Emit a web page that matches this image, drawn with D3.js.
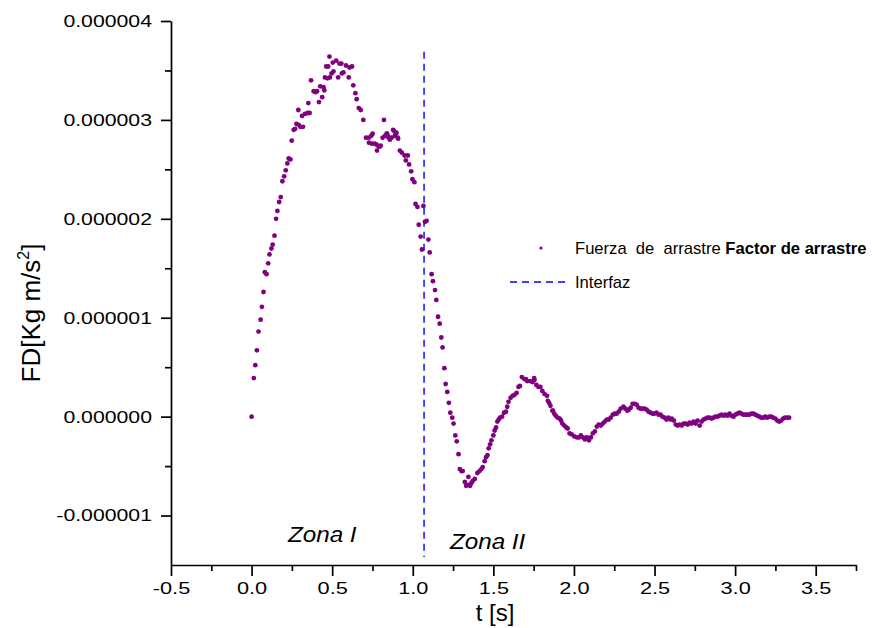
<!DOCTYPE html>
<html>
<head>
<meta charset="utf-8">
<script src="https://cdn.jsdelivr.net/npm/d3@7"></script>
<style>
body { margin: 0; background: #fff; }
text { font-family: "Liberation Sans", Arial, sans-serif; fill: #000; }
</style>
</head>
<body>
<svg id="chart" width="872" height="628"></svg>
<script>
// time [s]
const tValues = [0.000,0.014,0.023,0.033,0.043,0.056,0.064,0.074,0.082,0.093,0.103,0.111,0.123,0.131,0.142,0.152,0.160,0.171,0.181,0.191,
0.202,0.212,0.222,0.230,0.241,0.249,0.261,0.270,0.278,0.290,0.292,0.302,0.313,0.319,0.331,0.348,0.352,0.360,0.369,0.385,
0.397,0.406,0.418,0.426,0.438,0.446,0.451,0.455,0.463,0.471,0.475,0.483,0.486,0.496,0.504,0.508,0.525,0.537,0.545,0.557,
0.560,0.570,0.586,0.603,0.607,0.623,0.631,0.644,0.652,0.665,0.677,0.693,0.710,0.727,0.728,0.743,0.746,0.751,0.764,0.776,
0.778,0.788,0.796,0.801,0.813,0.821,0.829,0.838,0.841,0.848,0.850,0.858,0.869,0.878,0.883,0.889,0.895,0.899,0.907,0.909,
0.920,0.932,0.949,0.957,0.969,0.977,0.990,0.998,1.010,1.017,1.029,1.037,1.049,1.057,1.066,1.076,1.086,1.097,1.105,1.117,
1.125,1.138,1.146,1.157,1.167,1.177,1.185,1.196,1.204,1.214,1.224,1.233,1.245,1.253,1.264,1.273,1.284,1.292,1.302,1.310,
1.323,1.331,1.344,1.345,1.356,1.364,1.372,1.385,1.401,1.414,1.426,1.434,1.446,1.455,1.463,1.471,1.480,1.488,1.500,1.508,
1.517,1.525,1.533,1.541,1.554,1.566,1.578,1.586,1.594,1.607,1.619,1.631,1.644,1.656,1.665,1.677,1.693,1.702,1.710,1.727,
1.743,1.753,1.755,1.767,1.780,1.792,1.804,1.817,1.833,1.838,1.846,1.854,1.866,1.870,1.878,1.887,1.899,1.912,1.920,1.928,
1.940,1.952,1.961,1.973,1.986,2.002,2.019,2.031,2.043,2.056,2.068,2.080,2.093,2.105,2.117,2.130,2.142,2.154,2.167,2.179,
2.191,2.204,2.216,2.228,2.241,2.253,2.265,2.278,2.290,2.307,2.319,2.331,2.340,2.352,2.364,2.377,2.389,2.401,2.414,2.426,
2.438,2.451,2.463,2.475,2.488,2.500,2.512,2.525,2.537,2.549,2.562,2.574,2.586,2.599,2.607,2.620,2.632,2.644,2.656,2.669,
2.681,2.693,2.706,2.718,2.730,2.743,2.755,2.767,2.780,2.792,2.804,2.817,2.829,2.841,2.854,2.866,2.878,2.891,2.903,2.915,
2.928,2.940,2.952,2.965,2.977,2.990,3.002,3.014,3.027,3.039,3.051,3.064,3.076,3.088,3.101,3.113,3.125,3.138,3.150,3.162,
3.175,3.187,3.199,3.212,3.224,3.236,3.249,3.261,3.273,3.286,3.298,3.310,3.323,3.335];

// drag force, in units of 1e-6 Kg m/s^2
const fdValues = [0.00,0.39,0.52,0.67,0.86,0.98,1.11,1.26,1.46,1.44,1.55,1.64,1.70,1.74,1.83,2.00,2.08,2.17,2.22,2.38,
2.43,2.49,2.56,2.61,2.60,2.79,2.90,2.91,2.96,3.10,2.95,2.93,3.04,2.93,3.06,3.07,3.17,3.07,3.40,3.29,
3.28,3.29,3.18,3.34,3.23,3.33,3.30,3.43,3.54,3.42,3.54,3.64,3.43,3.47,3.58,3.49,3.60,3.43,3.57,3.57,
3.47,3.48,3.55,3.43,3.53,3.54,3.35,3.27,3.21,3.12,3.10,3.00,2.82,2.82,2.77,2.84,2.76,2.86,2.76,2.75,
2.69,2.73,2.73,2.74,2.82,3.00,2.84,2.86,2.86,2.83,2.82,2.80,2.82,2.90,2.89,2.84,2.86,2.87,2.82,2.81,
2.69,2.67,2.64,2.59,2.64,2.55,2.48,2.40,2.37,2.15,2.12,1.94,1.82,1.69,2.13,1.97,1.98,1.79,1.66,1.44,
1.37,1.28,1.18,1.01,0.94,0.80,0.70,0.49,0.33,0.25,0.14,0.04,-0.01,-0.07,-0.19,-0.25,-0.38,-0.53,-0.55,-0.55,
-0.66,-0.70,-0.69,-0.61,-0.70,-0.67,-0.65,-0.63,-0.57,-0.55,-0.53,-0.51,-0.45,-0.41,-0.39,-0.32,-0.28,-0.24,-0.19,-0.14,
-0.11,-0.05,-0.03,-0.01,0.00,0.04,0.05,0.10,0.15,0.19,0.21,0.22,0.24,0.30,0.31,0.40,0.38,0.38,0.36,0.36,
0.35,0.39,0.37,0.32,0.30,0.30,0.26,0.23,0.21,0.16,0.14,0.11,0.06,0.06,0.03,0.01,-0.01,-0.02,-0.04,-0.07,
-0.09,-0.11,-0.12,-0.17,-0.18,-0.20,-0.21,-0.21,-0.19,-0.21,-0.23,-0.21,-0.24,-0.21,-0.17,-0.15,-0.10,-0.08,-0.09,-0.07,
-0.05,-0.03,-0.03,-0.01,0.02,0.03,0.03,0.05,0.08,0.10,0.08,0.06,0.07,0.09,0.13,0.13,0.12,0.09,0.08,0.08,
0.08,0.07,0.05,0.04,0.03,0.03,0.04,0.02,0.02,0.00,-0.01,-0.03,-0.01,-0.03,-0.02,-0.04,-0.08,-0.09,-0.08,-0.09,
-0.07,-0.07,-0.08,-0.06,-0.07,-0.05,-0.07,-0.04,-0.09,-0.05,-0.03,-0.02,-0.01,-0.01,-0.02,-0.01,0.00,0.00,0.01,0.02,
0.01,0.02,0.01,0.03,0.01,0.00,0.02,0.03,0.04,0.03,0.02,0.02,0.02,0.02,0.03,0.03,0.02,0.01,0.00,-0.01,
-0.01,0.00,-0.01,0.00,0.00,-0.01,-0.02,-0.04,-0.05,-0.04,-0.02,-0.01,-0.01,-0.01];

const xMajor = [-0.5, 0.0, 0.5, 1.0, 1.5, 2.0, 2.5, 3.0, 3.5];
const xMinor = [-0.25, 0.25, 0.75, 1.25, 1.75, 2.25, 2.75, 3.25, 3.75];
const yMajor = [-1, 0, 1, 2, 3, 4];
const yMinor = [-0.5, 0.5, 1.5, 2.5, 3.5];

// vertical "Interfaz" line
const interfazT = 1.07;
const interfazSpan = [-1.42, 3.69];

const svg = d3.select("#chart");

let x = d3.scaleLinear().domain([-0.5, 3.75]).range([171, 856]);
let y = d3.scaleLinear().domain([-1.5, 4]).range([565, 21]);

let fmtY = d => d3.format(".6f")(d * 1e-6).replace("\u2212", "-");

// minor ticks first
svg.append("g")
    .attr("transform", "translate(0,565)")
    .call(d3.axisBottom(x).tickValues(xMinor).tickSize(6).tickFormat(""))
    .call(g => g.select(".domain").remove());
svg.append("g")
    .attr("transform", "translate(171,0)")
    .call(d3.axisLeft(y).tickValues(yMinor).tickSize(6).tickFormat(""))
    .call(g => g.select(".domain").remove());

let xAxis = svg.append("g")
    .attr("transform", "translate(0,565)")
    .call(d3.axisBottom(x).tickValues(xMajor).tickSize(11).tickSizeOuter(0).tickPadding(6)
        .tickFormat(d3.format(".1f")));
xAxis.selectAll("text")
    .attr("font-size", 17)
    .attr("transform", "scale(1.28,1)")
    .text(d => d3.format(".1f")(d).replace("\u2212", "-"));

let yAxis = svg.append("g")
    .attr("transform", "translate(171,0)")
    .call(d3.axisLeft(y).tickValues(yMajor).tickSize(10).tickSizeOuter(0).tickPadding(9)
        .tickFormat(fmtY));
yAxis.selectAll("text")
    .attr("font-size", 17)
    .attr("x", -19 / 1.25)
    .attr("transform", "scale(1.25,1)");

svg.selectAll(".domain, .tick line")
    .attr("stroke", "#000")
    .attr("stroke-width", 1.7);

// axis titles
svg.append("text")
    .attr("x", 495).attr("y", 621)
    .attr("text-anchor", "middle")
    .attr("font-size", 24)
    .text("t [s]");

let yTitle = svg.append("text")
    .attr("transform", "translate(40,313) rotate(-90)")
    .attr("text-anchor", "middle")
    .attr("font-size", 26);
yTitle.append("tspan").text("FD[Kg m/s");
yTitle.append("tspan").attr("font-size", 16).attr("dy", -11).text("2");
yTitle.append("tspan").attr("dy", 11).text("]");

// zone labels
svg.append("text")
    .attr("x", 288).attr("y", 542)
    .attr("font-size", 22).attr("font-style", "italic")
    .attr("transform", "translate(288,0) scale(1.1,1) translate(-288,0)")
    .text("Zona I");
svg.append("text")
    .attr("x", 450).attr("y", 549)
    .attr("font-size", 22).attr("font-style", "italic")
    .attr("transform", "translate(450,0) scale(1.1,1) translate(-450,0)")
    .text("Zona II");

// interface line
svg.append("line")
    .attr("x1", x(interfazT)).attr("x2", x(interfazT))
    .attr("y1", y(interfazSpan[1])).attr("y2", y(interfazSpan[0]))
    .attr("stroke", "#0000ff")
    .attr("stroke-width", 1.4)
    .attr("stroke-dasharray", "7,5");

// data points
let points = tValues.map((t, i) => ({t: t, fd: fdValues[i]}));
svg.append("g")
    .selectAll("circle")
    .data(points)
    .enter()
    .append("circle")
    .attr("cx", d => x(d.t))
    .attr("cy", d => y(d.fd))
    .attr("r", 2.4)
    .attr("fill", "#800080");

// legend
let legend = svg.append("g");
legend.append("circle")
    .attr("cx", 541).attr("cy", 248).attr("r", 1.6)
    .attr("fill", "#800080");
let lt = legend.append("text")
    .attr("x", 575).attr("y", 254)
    .attr("font-size", 16.6)
    .style("white-space", "pre");
lt.append("tspan").text("Fuerza  de  arrastre ");
lt.append("tspan").attr("font-weight", "bold").text("Factor de arrastre");

legend.append("line")
    .attr("x1", 510).attr("x2", 570)
    .attr("y1", 282).attr("y2", 282)
    .attr("stroke", "#0000ff")
    .attr("stroke-width", 1.4)
    .attr("stroke-dasharray", "7,5");
legend.append("text")
    .attr("x", 575).attr("y", 288)
    .attr("font-size", 16.6)
    .text("Interfaz");
</script>
</body>
</html>
